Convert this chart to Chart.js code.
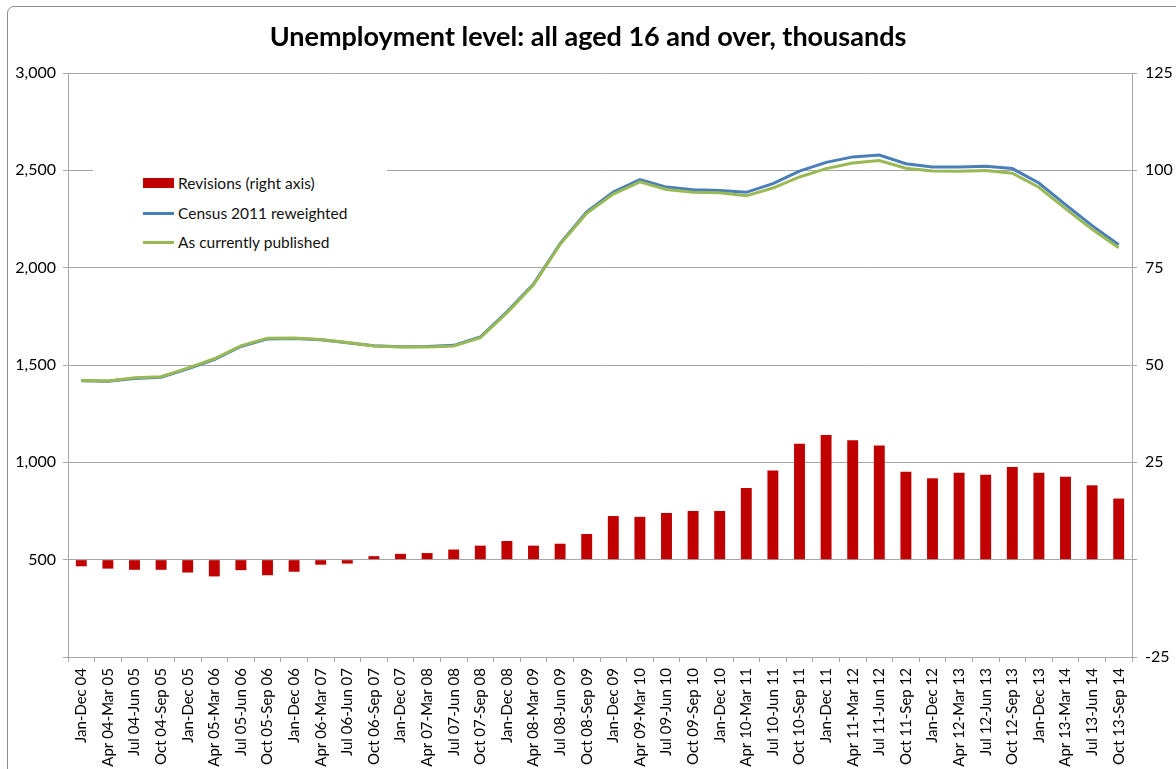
<!DOCTYPE html>
<html>
<head>
<meta charset="utf-8">
<script src="https://cdn.jsdelivr.net/npm/chart.js@4.4.1/dist/chart.umd.min.js"></script>
<style>
  html, body { margin: 0; padding: 0; background: #fff; overflow: hidden; }
  #wrap { position: relative; width: 1176px; height: 769px; }
  #c { position: absolute; left: 0; top: 0; }
  #frame { position: absolute; left: 7px; top: 6px; width: 1200px; height: 800px;
           border: 1px solid #8c8c8c; border-radius: 7px; pointer-events: none; }
  #legend { position: absolute; left: 93px; top: 158px; width: 294px; height: 104px;
            background: #fff; font-family: Lato, "Open Sans", sans-serif; font-size: 15.5px; color: #111; }
  .item { position: absolute; left: 50px; height: 20px; }
  .mk { position: absolute; left: 0; width: 31px; }
  .tx { position: absolute; left: 35px; top: 0; line-height: 20px; white-space: nowrap; }
</style>
</head>
<body>
<div id="wrap">
  <canvas id="c" width="1176" height="769"></canvas>
  <div id="frame"></div>
  <div id="legend"></div>
</div>
<script>
const titleText = "Unemployment level: all aged 16 and over, thousands";

const categories = [
  "Jan-Dec 04", "Apr 04-Mar 05", "Jul 04-Jun 05", "Oct 04-Sep 05",
  "Jan-Dec 05", "Apr 05-Mar 06", "Jul 05-Jun 06", "Oct 05-Sep 06",
  "Jan-Dec 06", "Apr 06-Mar 07", "Jul 06-Jun 07", "Oct 06-Sep 07",
  "Jan-Dec 07", "Apr 07-Mar 08", "Jul 07-Jun 08", "Oct 07-Sep 08",
  "Jan-Dec 08", "Apr 08-Mar 09", "Jul 08-Jun 09", "Oct 08-Sep 09",
  "Jan-Dec 09", "Apr 09-Mar 10", "Jul 09-Jun 10", "Oct 09-Sep 10",
  "Jan-Dec 10", "Apr 10-Mar 11", "Jul 10-Jun 11", "Oct 10-Sep 11",
  "Jan-Dec 11", "Apr 11-Mar 12", "Jul 11-Jun 12", "Oct 11-Sep 12",
  "Jan-Dec 12", "Apr 12-Mar 13", "Jul 12-Jun 13", "Oct 12-Sep 13",
  "Jan-Dec 13", "Apr 13-Mar 14", "Jul 13-Jun 14", "Oct 13-Sep 14"
];

const revisionsLabel = "Revisions (right axis)";
const revisions = [
  -1.7, -2.3, -2.6, -2.6, -3.3, -4.3, -2.7, -4.0, -3.1, -1.3,
  -1.0, 0.9, 1.5, 1.7, 2.6, 3.6, 4.8, 3.6, 4.1, 6.6,
  11.2, 11.0, 12.0, 12.5, 12.5, 18.4, 22.9, 29.8, 32.0, 30.7,
  29.3, 22.6, 20.9, 22.3, 21.8, 23.8, 22.3, 21.3, 19.1, 15.7
];

const censusLabel = "Census 2011 reweighted";
const census = [
  1419, 1416, 1431, 1437, 1481, 1528, 1595, 1634, 1636, 1630,
  1614, 1599, 1594, 1595, 1601, 1644, 1773, 1916, 2124, 2287,
  2389, 2452, 2414, 2400, 2397, 2387, 2432, 2496, 2541, 2569,
  2579, 2534, 2517, 2517, 2521, 2509, 2435, 2324, 2216, 2118
];

const publishedLabel = "As currently published";
const published = [
  1421, 1418, 1434, 1440, 1484, 1532, 1598, 1638, 1639, 1631,
  1615, 1598, 1593, 1593, 1598, 1640, 1768, 1912, 2120, 2280,
  2378, 2441, 2402, 2388, 2385, 2369, 2409, 2466, 2509, 2538,
  2550, 2511, 2496, 2495, 2499, 2485, 2413, 2303, 2197, 2102
];

const leftTicks = { min: 0, max: 3000, step: 500 };
const rightTicks = { min: -25, max: 125, step: 25 };

const RED = "#c00000", BLUE = "#4a7ebb", GREEN = "#98b954";
const GRID = "#a6a6a6";
const FONT = "Lato, 'Open Sans', sans-serif";

const fmt = new Intl.NumberFormat("en-US");

const chart = new Chart(document.getElementById("c"), {
  data: {
    labels: categories,
    datasets: [
      { type: "bar", label: revisionsLabel, data: revisions, yAxisID: "y1",
        backgroundColor: RED, borderWidth: 0, barPercentage: 0.41, categoryPercentage: 1, order: 3 },
      { type: "line", label: censusLabel, data: census, yAxisID: "y",
        borderColor: BLUE, borderWidth: 3, pointRadius: 0, tension: 0, fill: false, order: 2 },
      { type: "line", label: publishedLabel, data: published, yAxisID: "y",
        borderColor: GREEN, borderWidth: 3, pointRadius: 0, tension: 0, fill: false, order: 1 }
    ]
  },
  options: {
    responsive: false,
    animation: false,
    devicePixelRatio: 1,
    layout: { padding: 0 },
    plugins: {
      legend: { display: false },
      tooltip: { enabled: false },
      title: {
        display: true, text: titleText, color: "#000",
        font: { family: FONT, size: 27, weight: "bold", lineHeight: 1.2 },
        padding: { top: 21, bottom: 19.6 }
      }
    },
    scales: {
      x: {
        type: "category",
        offset: true,
        grid: { display: true, drawOnChartArea: false, drawTicks: true, tickLength: 5, color: GRID, offset: true },
        border: { display: true, color: GRID, width: 1 },
        ticks: { autoSkip: false, minRotation: 90, maxRotation: 90, padding: 6,
                 color: "#000", font: { family: FONT, size: 15 } },
        afterFit(s) { s.height = 112; }
      },
      y: {
        position: "left",
        min: leftTicks.min, max: leftTicks.max,
        grid: { color: GRID, lineWidth: 1, tickLength: 5, drawTicks: true },
        border: { display: true, color: GRID, width: 1 },
        ticks: { stepSize: leftTicks.step, padding: 7, color: "#000",
                 font: { family: FONT, size: 16 },
                 callback: v => v === 0 ? "" : fmt.format(v) },
        afterFit(s) { s.width = 68; }
      },
      y1: {
        position: "right",
        min: rightTicks.min, max: rightTicks.max,
        grid: { drawOnChartArea: false, color: GRID, tickLength: 5, drawTicks: true },
        border: { display: true, color: GRID, width: 1 },
        ticks: { stepSize: rightTicks.step, padding: 8, color: "#000",
                 font: { family: FONT, size: 16 },
                 callback: v => v === 0 ? "" : String(v) },
        afterFit(s) { s.width = 44; }
      }
    }
  }
});

// HTML legend built from the chart datasets
const leg = document.getElementById("legend");
const rowTops = [15, 45, 74];
chart.data.datasets.forEach((ds, i) => {
  const it = document.createElement("div");
  it.className = "item";
  it.style.top = rowTops[i] + "px";
  const mk = document.createElement("div");
  mk.className = "mk";
  if (ds.type === "bar") {
    mk.style.top = "5px"; mk.style.height = "10px"; mk.style.background = ds.backgroundColor;
  } else {
    mk.style.top = "9px"; mk.style.height = "3px"; mk.style.background = ds.borderColor;
  }
  const tx = document.createElement("div");
  tx.className = "tx";
  tx.textContent = ds.label;
  it.appendChild(mk); it.appendChild(tx);
  leg.appendChild(it);
});
</script>
</body>
</html>
